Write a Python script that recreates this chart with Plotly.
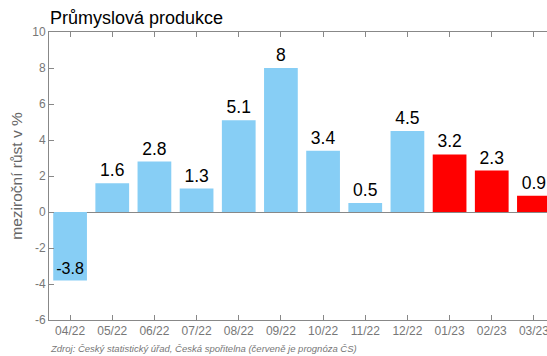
import plotly.graph_objects as go

categories = ["04/22", "05/22", "06/22", "07/22", "08/22", "09/22", "10/22", "11/22", "12/22", "01/23", "02/23", "03/23"]
values = [-3.8, 1.6, 2.8, 1.3, 5.1, 8, 3.4, 0.5, 4.5, 3.2, 2.3, 0.9]
forecast = [False]*9 + [True]*3
labels = ["-3.8", "1.6", "2.8", "1.3", "5.1", "8", "3.4", "0.5", "4.5", "3.2", "2.3", "0.9"]
y_ticks = [-6, -4, -2, 0, 2, 4, 6, 8, 10]
y_ticktext = ["-6", "-4", "-2", "0", "2", "4", "6", "8", "10"]

colors = ["#FF0000" if f else "#87CEF5" for f in forecast]
positions = ["inside" if v < 0 else "outside" for v in values]
lblfont = dict(family="Liberation Sans, Arial", size=17.5, color="black")

fig = go.Figure(go.Bar(
    x=categories, y=values, marker=dict(color=colors, line=dict(width=0)),
    width=0.8, text=labels, textposition=positions, insidetextanchor="end",
    textfont=lblfont, outsidetextfont=lblfont, insidetextfont=lblfont,
    cliponaxis=False, textangle=0,
))

fig.update_layout(
    width=570, height=356,
    margin=dict(l=49, r=15, t=32, b=36),
    paper_bgcolor="white", plot_bgcolor="white",
    showlegend=False,
    font=dict(family="Liberation Sans, Arial", color="#777"),
    title=dict(text="Průmyslová produkce", x=50/570, xanchor="left", xref="container",
               y=1-18/356, yanchor="middle", yref="container",
               font=dict(size=18, color="black", family="Liberation Sans, Arial")),
    bargap=0.2,
)
fig.update_xaxes(range=[-0.5, 11.5], showline=True, linecolor="#888", linewidth=1, mirror="ticks",
                 ticks="inside", ticklen=5, tickcolor="#888", tickfont=dict(size=12, color="#777"),
                 showgrid=False)
fig.update_yaxes(range=[-6, 10], tickvals=y_ticks, ticktext=y_ticktext, showline=True, linecolor="#888",
                 linewidth=1, mirror="ticks",
                 ticks="inside", ticklen=5, tickcolor="#888", tickfont=dict(size=12, color="#777"),
                 showgrid=False, zeroline=True, zerolinecolor="#888", zerolinewidth=1,
                 title=dict(text="meziroční růst v %", font=dict(size=15.5, color="#666"), standoff=5))

fig.add_annotation(text="Zdroj: Český statistický úřad, Česká spořitelna (červeně je prognóza ČS)",
                   xref="paper", yref="paper", x=-0.002, y=-(349-320.5)/288.5, xanchor="left", yanchor="middle",
                   showarrow=False, font=dict(size=9.5, color="#777", family="Liberation Sans, Arial", style="italic"))

fig.write_html("out.html")
